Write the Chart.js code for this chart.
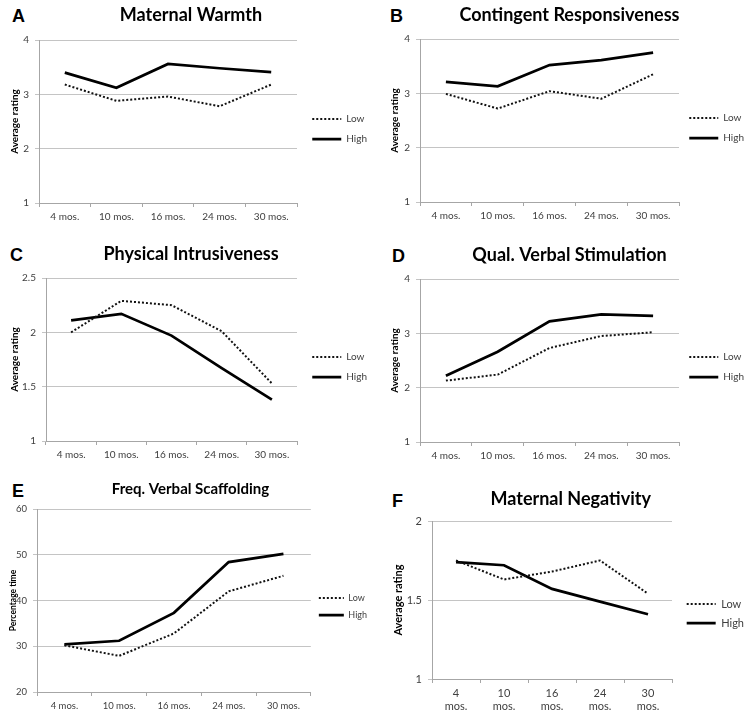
<!DOCTYPE html>
<html>
<head>
<meta charset="utf-8">
<script src="https://cdn.jsdelivr.net/npm/chart.js@4.4.1/dist/chart.umd.min.js"></script>
<style>
  body { margin: 0; background: #fff; width: 754px; height: 717px; overflow: hidden; position: relative; }
  canvas { position: absolute; }
  .tag { position: absolute; font: bold 18px "Liberation Sans", Arial, sans-serif; line-height: 18px; color: #000; }
</style>
</head>
<body>
<div class="tag" style="left:12px;top:7px">A</div>
<div class="tag" style="left:390px;top:7px">B</div>
<div class="tag" style="left:10px;top:246px">C</div>
<div class="tag" style="left:392px;top:247px">D</div>
<div class="tag" style="left:12px;top:482px">E</div>
<div class="tag" style="left:392px;top:492px">F</div>

<canvas id="chartA"></canvas>
<canvas id="chartB"></canvas>
<canvas id="chartC"></canvas>
<canvas id="chartD"></canvas>
<canvas id="chartE"></canvas>
<canvas id="chartF"></canvas>

<script>
// Data
const months = ['4 mos.', '10 mos.', '16 mos.', '24 mos.', '30 mos.'];
const monthsWrapped = [['4', 'mos.'], ['10', 'mos.'], ['16', 'mos.'], ['24', 'mos.'], ['30', 'mos.']];
const seriesNames = ['Low', 'High'];

const warmthLow = [3.18, 2.88, 2.96, 2.78, 3.18];
const warmthHigh = [3.40, 3.12, 3.56, 3.48, 3.41];
const responsiveLow = [2.99, 2.72, 3.04, 2.90, 3.35];
const responsiveHigh = [3.21, 3.13, 3.52, 3.61, 3.75];
const intrusiveLow = [2.00, 2.29, 2.25, 2.01, 1.53];
const intrusiveHigh = [2.11, 2.17, 1.97, 1.67, 1.38];
const stimulationLow = [2.13, 2.24, 2.73, 2.95, 3.02];
const stimulationHigh = [2.22, 2.66, 3.22, 3.35, 3.32];
const scaffoldingLow = [30.2, 27.9, 32.8, 42.0, 45.4];
const scaffoldingHigh = [30.4, 31.2, 37.3, 48.4, 50.2];
const negativityLow = [1.75, 1.63, 1.68, 1.75, 1.54];
const negativityHigh = [1.74, 1.72, 1.57, 1.49, 1.41];

Chart.defaults.font.family = 'Lato, "Open Sans", sans-serif';
Chart.defaults.color = '#404040';

// Panel placement: area = [left, right, top, bottom] of the plot inside the canvas
const panels = [
  { id: 'chartA', left: 0, top: 0, h: 258, area: [39, 297, 40, 203], title: 'Maternal Warmth', titleSize: 18, capTop: 9,
    yTitle: 'Average rating', yTitleSize: 10, yTitleX: 15, yMin: 1, yMax: 4, yStep: 1, tickSize: 10,
    labels: months, low: warmthLow, high: warmthHigh, legendGap: 16, legendLine: 29, legendFont: 10, legendPad: 10 },
  { id: 'chartB', left: 377, top: 0, h: 256, area: [43, 302, 39, 202], title: 'Contingent Responsiveness', titleSize: 18, capTop: 9,
    yTitle: 'Average rating', yTitleSize: 10, yTitleX: 18, yMin: 1, yMax: 4, yStep: 1, tickSize: 10,
    labels: months, low: responsiveLow, high: responsiveHigh, legendGap: 16, legendLine: 29, legendFont: 10, legendPad: 10 },
  { id: 'chartC', left: 0, top: 240, h: 254, area: [46, 297, 38, 201], title: 'Physical Intrusiveness', titleSize: 18, capTop: 8,
    yTitle: 'Average rating', yTitleSize: 10, yTitleX: 15, yMin: 1, yMax: 2.5, yStep: 0.5, tickSize: 10,
    labels: months, low: intrusiveLow, high: intrusiveHigh, legendGap: 16, legendLine: 29, legendFont: 10, legendPad: 10 },
  { id: 'chartD', left: 377, top: 240, h: 254, area: [43, 302, 39, 202], title: 'Qual. Verbal Stimulation', titleSize: 18, capTop: 9,
    yTitle: 'Average rating', yTitleSize: 10, yTitleX: 18, yMin: 1, yMax: 4, yStep: 1, tickSize: 10,
    labels: months, low: stimulationLow, high: stimulationHigh, legendGap: 16, legendLine: 29, legendFont: 10, legendPad: 10 },
  { id: 'chartE', left: 0, top: 480, h: 253, area: [37, 312, 29, 212], title: 'Freq. Verbal Scaffolding', titleSize: 15, capTop: 4,
    yTitle: 'Percentage time', yTitleSize: 8.5, yTitleX: 13, yMin: 20, yMax: 60, yStep: 10, tickSize: 9.5,
    labels: months, low: scaffoldingLow, high: scaffoldingHigh, legendGap: 13, legendLine: 25, legendFont: 9, legendPad: 8 },
  { id: 'chartF', left: 377, top: 480, h: 267, area: [55, 295, 41, 199], title: 'Maternal Negativity', titleSize: 18, capTop: 13,
    yTitle: 'Average rating', yTitleSize: 11, yTitleX: 21, yMin: 1, yMax: 2, yStep: 0.5, tickSize: 11,
    labels: monthsWrapped, low: negativityLow, high: negativityHigh, legendGap: 18, legendLine: 29, legendFont: 11, legendPad: 8 }
];

const W = 377;

// legend entries take their dash and width from the line, not from the (hidden) points
function lineLegendLabels(chart) {
  const items = Chart.defaults.plugins.legend.labels.generateLabels(chart);
  return items.map(item => {
    const ds = chart.data.datasets[item.datasetIndex];
    return Object.assign(item, {
      lineDash: ds.borderDash || [],
      lineWidth: ds.borderWidth,
      strokeStyle: ds.borderColor,
      fillStyle: ds.borderColor,
      pointStyle: 'line'
    });
  });
}

function buildPanel(p) {
  const canvas = document.getElementById(p.id);
  canvas.width = W;
  canvas.height = p.h;
  canvas.style.left = p.left + 'px';
  canvas.style.top = p.top + 'px';

  const [aLeft, aRight, aTop, aBottom] = p.area;
  const padLeft = Math.max(0, p.yTitleX - 4 - p.yTitleSize * 0.6);
  const titleTop = p.capTop - 0.24 * p.titleSize;
  const titleBottom = aTop - titleTop - 1.2 * p.titleSize;
  let gapWidth = p.legendGap - p.legendPad;

  const chart = new Chart(canvas, {
    type: 'line',
    data: {
      labels: p.labels,
      datasets: [
        { label: seriesNames[0], data: p.low, borderColor: '#111', borderWidth: 2, borderDash: [2, 2],
          pointRadius: 0, pointHoverRadius: 0, tension: 0, fill: false },
        { label: seriesNames[1], data: p.high, borderColor: '#000', borderWidth: 2.75,
          pointRadius: 0, pointHoverRadius: 0, tension: 0, fill: false }
      ]
    },
    options: {
      responsive: false,
      animation: false,
      layout: { padding: { left: padLeft, right: 0, top: 0, bottom: 0 } },
      plugins: {
        title: {
          display: true,
          text: p.title,
          color: '#000',
          font: { size: p.titleSize, weight: 'bold' },
          padding: { top: titleTop, bottom: titleBottom }
        },
        legend: {
          position: 'right',
          maxWidth: 140,
          labels: {
            usePointStyle: true,
            pointStyle: 'line',
            pointStyleWidth: p.legendLine,
            padding: p.legendPad,
            color: '#404040',
            font: { size: p.legendFont },
            generateLabels: lineLegendLabels
          }
        },
        tooltip: { enabled: false }
      },
      scales: {
        x: {
          offset: true,
          grid: { offset: true, drawOnChartArea: false, drawTicks: true, tickLength: 4, color: '#a6a6a6' },
          border: { display: true, color: '#a6a6a6' },
          ticks: { font: { size: p.tickSize }, color: '#404040', maxRotation: 0, autoSkip: false, padding: 4 },
          afterFit: s => { s.height = p.h - aBottom; }
        },
        y: {
          min: p.yMin,
          max: p.yMax,
          ticks: { stepSize: p.yStep, font: { size: p.tickSize }, color: '#404040', padding: 6, callback: v => String(v) },
          grid: { color: '#c4c4c4', tickLength: 4 },
          border: { display: true, color: '#a6a6a6' },
          title: { display: true, text: p.yTitle, color: '#000', font: { size: p.yTitleSize, weight: 'bold' }, padding: { top: 4, bottom: 0 } },
          afterFit: s => { s.width = aLeft - padLeft; }
        },
        // empty axis only used as a spacer between the plot and the legend
        gap: {
          type: 'linear',
          position: 'right',
          display: true,
          grid: { display: false },
          border: { display: false },
          ticks: { display: false },
          afterFit: s => { s.width = gapWidth; }
        }
      }
    }
  });

  // move the legend block so the plot ends where the reference plot ends;
  // if the legend is too wide for that, eat into the spacer first
  const extra = aRight - chart.chartArea.right;
  if (extra > 0.5) {
    gapWidth = Math.max(0, gapWidth - extra);
    chart.update();
  } else if (extra < -0.5) {
    chart.options.layout.padding.right = -extra;
    chart.update();
  }
  return chart;
}

panels.forEach(buildPanel);
</script>
</body>
</html>
